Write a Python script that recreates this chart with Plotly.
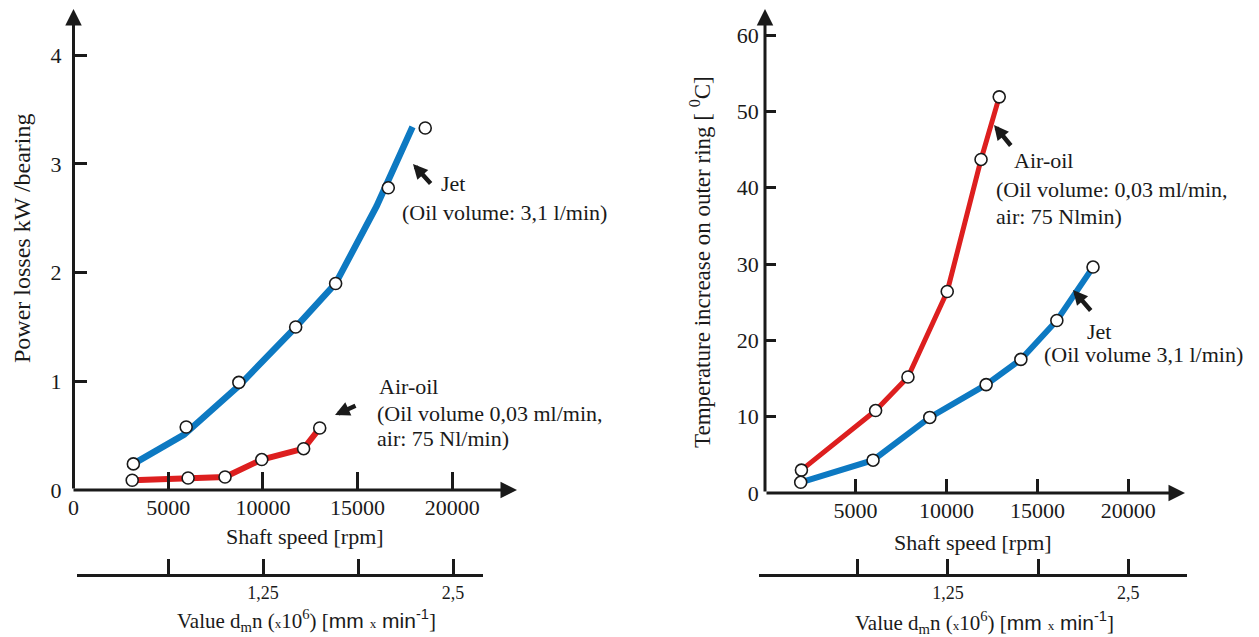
import plotly.graph_objects as go

# The page body has an 8px margin, so the figure is drawn 8px smaller and all
# layout positions below are given in window pixels and shifted by OFF.
OFF = 8
W, H = 1259 - OFF, 637 - OFF

# ---------------- data ----------------
# Left chart: power losses [kW/bearing] vs shaft speed [rpm]
jet_line_x = [3160, 5840, 8740, 11740, 13840, 16000, 17900]
jet_line_y = [0.24, 0.51, 0.96, 1.50, 1.90, 2.61, 3.34]
jet_pts_x = [3160, 5950, 8730, 11730, 13840, 16620, 18570]
jet_pts_y = [0.24, 0.58, 0.99, 1.50, 1.90, 2.78, 3.33]
air_pts_x = [3100, 6050, 8000, 9940, 12150, 13000]
air_pts_y = [0.09, 0.11, 0.12, 0.28, 0.38, 0.57]

# Right chart: temperature increase on outer ring [°C] vs shaft speed [rpm]
temp_air_x = [2020, 6100, 7880, 10040, 11900, 12900]
temp_air_y = [3.0, 10.8, 15.2, 26.4, 43.7, 51.9]
temp_jet_x = [1980, 5960, 9080, 12180, 14090, 16070, 18060]
temp_jet_y = [1.4, 4.3, 9.9, 14.2, 17.5, 22.6, 29.6]

speed_ticks_left = [0, 5000, 10000, 15000, 20000]
speed_ticks_right = [5000, 10000, 15000, 20000]
power_ticks = [0, 1, 2, 3, 4]
temp_ticks = [0, 10, 20, 30, 40, 50, 60]
dmn_ticks = [0.625, 1.25, 1.875, 2.5]
dmn_labels = ["", "1,25", "", "2,5"]

BLUE = "#0d79c2"
RED = "#dd1f1f"
BLACK = "#1a1a1a"
SERIF = "Liberation Serif"
FS = 22


def px(x):
    return (x - OFF) / W


def py(y):
    return 1 - (y - OFF) / H


fig = go.Figure()

# left chart traces
fig.add_trace(go.Scatter(x=jet_line_x, y=jet_line_y, mode="lines",
                         line=dict(color=BLUE, width=6.5), xaxis="x", yaxis="y",
                         showlegend=False, hoverinfo="skip"))
fig.add_trace(go.Scatter(x=air_pts_x, y=air_pts_y, mode="lines",
                         line=dict(color=RED, width=6), xaxis="x", yaxis="y",
                         showlegend=False, hoverinfo="skip"))
for xs, ys in [(jet_pts_x, jet_pts_y), (air_pts_x, air_pts_y)]:
    fig.add_trace(go.Scatter(x=xs, y=ys, mode="markers",
                             marker=dict(symbol="circle", size=12, color="white",
                                         line=dict(color=BLACK, width=1.6)),
                             xaxis="x", yaxis="y", showlegend=False))

# right chart traces
fig.add_trace(go.Scatter(x=temp_air_x, y=temp_air_y, mode="lines",
                         line=dict(color=RED, width=5), xaxis="x2", yaxis="y2",
                         showlegend=False, hoverinfo="skip"))
fig.add_trace(go.Scatter(x=temp_jet_x, y=temp_jet_y, mode="lines",
                         line=dict(color=BLUE, width=6), xaxis="x2", yaxis="y2",
                         showlegend=False, hoverinfo="skip"))
for xs, ys in [(temp_air_x, temp_air_y), (temp_jet_x, temp_jet_y)]:
    fig.add_trace(go.Scatter(x=xs, y=ys, mode="markers",
                             marker=dict(symbol="circle", size=12, color="white",
                                         line=dict(color=BLACK, width=1.6)),
                             xaxis="x2", yaxis="y2", showlegend=False))

# empty traces to create the secondary dmn axes
fig.add_trace(go.Scatter(x=[None], y=[None], xaxis="x3", yaxis="y3", showlegend=False))
fig.add_trace(go.Scatter(x=[None], y=[None], xaxis="x4", yaxis="y4", showlegend=False))

tickfont = dict(family=SERIF, size=FS, color=BLACK)
common = dict(showgrid=False, zeroline=False, showline=False, ticks="inside",
              tickcolor=BLACK, tickwidth=2.5, tickfont=tickfont, fixedrange=True,
              automargin=False)

# left primary axes
L0, L_unit = 73.5, 94.7 / 5000
fig.update_layout(
    xaxis=dict(domain=[px(L0), px(500)], range=[0, (500 - L0) / L_unit],
               tickvals=speed_ticks_left, ticktext=[str(v) for v in speed_ticks_left],
               ticklen=18, anchor="y", ticklabelstandoff=2, **common),
    yaxis=dict(domain=[py(490), py(30)], range=[0, 460 / 108.7],
               tickvals=power_ticks, ticktext=[str(v) for v in power_ticks],
               ticklen=13, anchor="x", ticklabelstandoff=11, **common),
)
# right primary axes
R0, R_unit = 764.7, 90.9 / 5000
fig.update_layout(
    xaxis2=dict(domain=[px(R0), px(1170)], range=[0, (1170 - R0) / R_unit],
                tickvals=speed_ticks_right, ticktext=[str(v) for v in speed_ticks_right],
                ticklen=14, anchor="y2", ticklabelstandoff=2, **common),
    yaxis2=dict(domain=[py(493), py(25)], range=[0, 468 / 7.633],
                tickvals=temp_ticks, ticktext=[str(v) for v in temp_ticks],
                ticklen=11, anchor="x2", ticklabelstandoff=5, **common),
)
# secondary dmn axes
sec = dict(showgrid=False, zeroline=False, showline=True, linecolor=BLACK, linewidth=3,
           ticks="inside", tickcolor=BLACK, tickwidth=2.5, ticklen=15,
           tickfont=dict(family=SERIF, size=18, color=BLACK), fixedrange=True,
           automargin=False)
l_rng = [(77 - 73) / 152, (483 - 73) / 152]
r_rng = [(759 - 767.6) / 144.3, (1187 - 767.6) / 144.3]
fig.update_layout(
    xaxis3=dict(domain=[px(77), px(483)], range=l_rng, anchor="y3",
                tickvals=[l_rng[0]] + dmn_ticks, ticktext=[""] + dmn_labels, **sec),
    yaxis3=dict(domain=[py(574), py(556)], visible=False, anchor="x3", fixedrange=True,
                automargin=False),
    xaxis4=dict(domain=[px(759), px(1187)], range=r_rng, anchor="y4",
                tickvals=[r_rng[0]] + dmn_ticks, ticktext=[""] + dmn_labels, **sec),
    yaxis4=dict(domain=[py(574), py(556)], visible=False, anchor="x4", fixedrange=True,
                automargin=False),
)

ann = []


def axis_arrow(tip, tail):
    ann.append(dict(x=px(tip[0]), y=py(tip[1]), xref="paper", yref="paper",
                    ax=tail[0] - tip[0], ay=tail[1] - tip[1], text="", showarrow=True,
                    arrowhead=2, arrowwidth=3, arrowsize=1.1, arrowcolor=BLACK))


def pointer(tip, tail):
    ann.append(dict(x=px(tip[0]), y=py(tip[1]), xref="paper", yref="paper",
                    ax=tail[0] - tip[0], ay=tail[1] - tip[1], text="", showarrow=True,
                    arrowhead=2, arrowwidth=4.5, arrowsize=0.65, arrowcolor=BLACK))


def label(text, x, y, xanchor="left", size=FS, angle=0, family=SERIF):
    ann.append(dict(x=px(x), y=py(y), xref="paper", yref="paper", text=text,
                    showarrow=False, xanchor=xanchor, yanchor="middle", textangle=angle,
                    font=dict(family=family, size=size, color=BLACK)))


# axes with arrow heads
axis_arrow((73.5, 9), (73.5, 490))
axis_arrow((517, 490), (72, 490))
axis_arrow((765, 9), (765, 493))
axis_arrow((1185, 493), (765, 493))

# pointer arrows
pointer((413, 164), (432, 185))
pointer((335, 415), (357, 405))
pointer((994, 125), (1012, 147))
pointer((1073, 290), (1092, 312))

# series annotations
label("Jet", 439, 183)
label("(Oil volume: 3,1 l/min)", 400, 212)
label("Air-oil", 377, 386)
label("(Oil volume 0,03 ml/min,", 375, 413)
label("air: 75 Nl/min)", 375, 438)
label("Air-oil", 1012, 160)
label("(Oil volume: 0,03 ml/min,", 994, 190)
label("air: 75 Nlmin)", 994, 217)
label("Jet", 1099, 331, xanchor="center")
label("(Oil volume 3,1 l/min)", 1042, 354)

# axis titles
label("Power losses kW /bearing", 22, 238, xanchor="center", angle=-90, size=24)
label("Temperature increase on outer ring [ <sup>0</sup>C]", 701, 262, xanchor="center",
      angle=-90, size=23)
label("Shaft speed [rpm]", 305, 536, xanchor="center")
label("Shaft speed [rpm]", 973, 542, xanchor="center")
dmn_title = ("Value d<sub>m</sub>n (<span style='font-size:13px'>x</span>10<sup>6</sup>) "
             "[<span style='font-family:Liberation Sans'>mm </span>"
             "<span style='font-size:13px'>x</span>"
             "<span style='font-family:Liberation Sans'> min<sup>-1</sup></span>]")
label(dmn_title, 306, 620, xanchor="center", size=21)
label(dmn_title, 984, 622, xanchor="center", size=21)

fig.update_layout(
    width=W, height=H, margin=dict(l=0, r=0, t=0, b=0, autoexpand=False),
    paper_bgcolor="white", plot_bgcolor="rgba(0,0,0,0)",
    annotations=ann, showlegend=False,
)

fig.write_html("out.html", config={"displayModeBar": False})
